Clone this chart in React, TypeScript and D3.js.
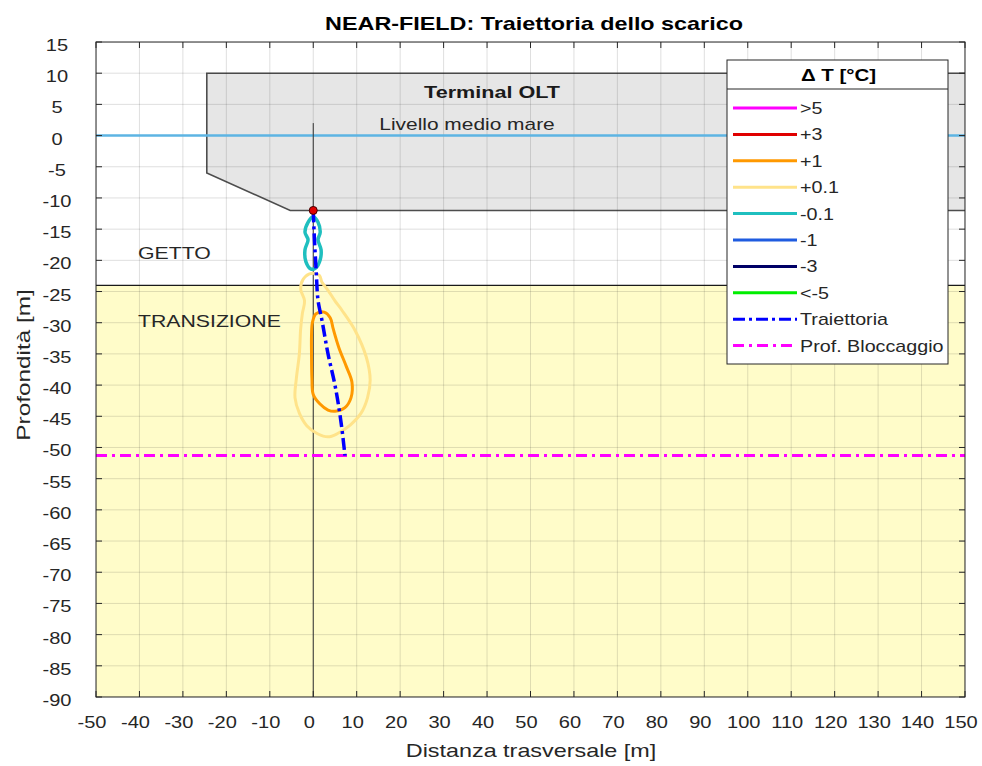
import React from "react";
import * as d3 from "d3";

const W = 982, H = 766;
const X_DOMAIN = [-50, 150];
const Y_DOMAIN = [-90, 15];
const xTicks = d3.range(-50, 151, 10);
const yTicks = d3.range(-90, 16, 5);

// Terminal OLT outline (x, y) in metres
const terminalPoly: [number, number][] = [
  [-24.5, 10], [160, 10], [160, -12], [-5.3, -12], [-24.5, -6],
];
const transitionTop = -24;
const seaLevel = 0;
const outfallPole: [number, number][] = [[0, 2], [0, -90]];
const dischargePoint: [number, number] = [0, -12];
const blockingDepth = -51.3;

// contour -0.1 °C
const contourM01: [number, number][] = [
  [0.0, -13.0], [1.1, -13.9], [1.6, -15.5], [1.1, -16.7], [1.8, -18.3], [1.6, -19.9],
  [0.6, -21.2], [-0.5, -21.4], [-1.7, -20.2], [-1.9, -18.3], [-1.2, -16.7], [-1.9, -15.5],
  [-1.2, -13.9],
];
// contour +0.1 °C
const contourP01: [number, number][] = [
  [-0.5, -22.1], [1.4, -22.4], [2.0, -23.5], [3.4, -24.8], [5.0, -26.5], [6.6, -28.0],
  [9.6, -31.2], [12.2, -35.5], [13.1, -39.2], [12.5, -42.0], [11.0, -44.5], [8.5, -46.4],
  [5.5, -47.8], [3.4, -48.3], [1.0, -47.8], [-1.5, -46.5], [-3.2, -44.5], [-4.2, -42.0],
  [-3.9, -39.0], [-3.2, -35.0], [-2.9, -31.0], [-2.5, -28.5], [-2.0, -26.5], [-2.9, -24.6],
  [-2.3, -23.0],
];
// contour +1 °C
const contourP1: [number, number][] = [
  [-0.2, -30.0], [0.6, -28.6], [2.5, -28.3], [3.9, -29.2], [4.6, -31.0], [5.9, -34.0],
  [7.6, -37.0], [8.9, -39.5], [8.7, -42.0], [7.3, -43.6], [5.0, -44.2], [3.4, -44.0],
  [1.5, -43.0], [0.0, -41.5], [-0.3, -39.0], [-0.4, -35.0], [-0.4, -32.0],
];
// trajectory
const trajectory: [number, number][] = [
  [0, -12], [0.3, -17], [0.7, -22], [1.1, -26.4], [2.0, -29.6], [3.4, -35], [5.0, -40],
  [6.2, -45], [7.3, -51.3],
];

const legendLabels = [">5", "+3", "+1", "+0.1", "-0.1", "-1", "-3", "<-5", "Traiettoria", "Prof. Bloccaggio"];
const legendColors = ["#ff00ff", "#e00000", "#ff9900", "#ffe38a", "#1fbfbf", "#1f5ce0", "#000066", "#00ee00", "#0000ff", "#ff00ff"];
const legendDashed = [false, false, false, false, false, false, false, false, true, true];

const FONT = "'Liberation Sans', Arial, Helvetica, sans-serif";
const TXT = "#262626";

type TxtProps = {
  x: number; y: number; size: number; sx: number; anchor?: "start" | "middle" | "end";
  bold?: boolean; fill?: string; rotate?: number; children: React.ReactNode;
};
function Txt({ x, y, size, sx, anchor = "start", bold, fill = TXT, rotate, children }: TxtProps) {
  const tf = `translate(${x},${y})${rotate ? ` rotate(${rotate})` : ""} scale(${sx},1)`;
  return (
    <text transform={tf} x={0} y={0} textAnchor={anchor} fontSize={size}
      fontWeight={bold ? "bold" : "normal"} fill={fill}>{children}</text>
  );
}

export default function App() {
  const x = d3.scaleLinear().domain(X_DOMAIN).range([96, 965]);
  const y = d3.scaleLinear().domain(Y_DOMAIN).range([697, 42]);
  const L = 96, R = 965, T = 42, B = 697;

  const closed = d3.line<[number, number]>().x(d => x(d[0])).y(d => y(d[1])).curve(d3.curveCatmullRomClosed.alpha(0.5));
  const open = d3.line<[number, number]>().x(d => x(d[0])).y(d => y(d[1])).curve(d3.curveMonotoneY);
  const poly = d3.line<[number, number]>().x(d => x(d[0])).y(d => y(d[1]));

  const trajDash = "12,4,3,4";
  const blockDash = "11,5,3,5";

  const legX = 727, legY = 60, legW = 221, legH = 304, legTitleH = 29;
  const rowStep = 26.4;

  return (
    <svg width={W} height={H} style={{ position: "absolute", left: 0, top: 0, display: "block", background: "#fff" }} fontFamily={FONT}>
      <defs>
        <clipPath id="plotClip"><rect x={L} y={T} width={R - L} height={B - T} /></clipPath>
      </defs>
      <rect x={0} y={0} width={W} height={H} fill="#fff" />
      <g clipPath="url(#plotClip)">
        <rect x={L} y={T} width={R - L} height={B - T} fill="#fff" />
        <rect x={L} y={y(transitionTop)} width={R - L} height={y(-90) - y(transitionTop)} fill="#fffcc9" />
        <line x1={L} x2={R} y1={y(transitionTop)} y2={y(transitionTop)} stroke="#1a1a1a" strokeWidth={1.2} />
        <path d={poly(terminalPoly) + "Z"} fill="#e6e6e6" stroke="#4d4d4d" strokeWidth={1.6} />
        {xTicks.map(t => (
          <line key={"gx" + t} x1={x(t)} x2={x(t)} y1={T} y2={B} stroke="#262626" strokeOpacity={0.15} strokeWidth={1} />
        ))}
        {yTicks.map(t => (
          <line key={"gy" + t} x1={L} x2={R} y1={y(t)} y2={y(t)} stroke="#262626" strokeOpacity={0.15} strokeWidth={1} />
        ))}
        <line x1={L} x2={R} y1={y(seaLevel)} y2={y(seaLevel)} stroke="#5db4e3" strokeWidth={2.5} />
        <line x1={x(outfallPole[0][0])} x2={x(outfallPole[1][0])} y1={y(outfallPole[0][1])} y2={y(outfallPole[1][1])} stroke="#333" strokeWidth={1} />
        <path d={closed(contourP01) || ""} fill="none" stroke={legendColors[3]} strokeWidth={3} />
        <path d={closed(contourP1) || ""} fill="none" stroke={legendColors[2]} strokeWidth={3} />
        <path d={closed(contourM01) || ""} fill="none" stroke={legendColors[4]} strokeWidth={3.5} />
        <line x1={L} x2={R} y1={y(blockingDepth)} y2={y(blockingDepth)} stroke="#ff00ff" strokeWidth={3} strokeDasharray={blockDash} />
        <path d={open(trajectory) || ""} fill="none" stroke="#0000ff" strokeWidth={3.5} strokeDasharray={trajDash} />
        <circle cx={x(dischargePoint[0])} cy={y(dischargePoint[1])} r={4} fill="#e00000" stroke="#400000" strokeWidth={1} />
        <Txt x={492} y={98} size={17} sx={1.27} anchor="middle" bold fill="#1a1a1a">Terminal OLT</Txt>
        <Txt x={467} y={130} size={17} sx={1.23} anchor="middle">Livello medio mare</Txt>
        <Txt x={138} y={259} size={17} sx={1.25}>GETTO</Txt>
        <Txt x={138} y={327} size={17} sx={1.25}>TRANSIZIONE</Txt>
      </g>
      <rect x={L} y={T} width={R - L} height={B - T} fill="none" stroke="#262626" strokeWidth={1} />
      {xTicks.map(t => (
        <g key={"tx" + t}>
          <line x1={x(t)} x2={x(t)} y1={B} y2={B - 6} stroke="#262626" />
          <line x1={x(t)} x2={x(t)} y1={T} y2={T + 6} stroke="#262626" />
          <Txt x={x(t) - 4} y={728} size={17} sx={1.18} anchor="middle">{t}</Txt>
        </g>
      ))}
      {yTicks.map(t => (
        <g key={"ty" + t}>
          <line x1={L} x2={L + 6} y1={y(t)} y2={y(t)} stroke="#262626" />
          <line x1={R} x2={R - 6} y1={y(t)} y2={y(t)} stroke="#262626" />
          <Txt x={57} y={y(t) + 9} size={17} sx={1.18} anchor="middle">{t}</Txt>
        </g>
      ))}
      <Txt x={534} y={30} size={19} sx={1.23} anchor="middle" bold fill="#000">NEAR-FIELD: Traiettoria dello scarico</Txt>
      <Txt x={531} y={757} size={19} sx={1.23} anchor="middle">Distanza trasversale [m]</Txt>
      <Txt x={30} y={365} size={19} sx={1.28} anchor="middle" rotate={-90}>Profondità [m]</Txt>
      <g>
        <rect x={legX} y={legY} width={legW} height={legH} fill="#fff" stroke="#262626" strokeWidth={1} />
        <line x1={legX} x2={legX + legW} y1={legY + legTitleH} y2={legY + legTitleH} stroke="#262626" strokeWidth={1} />
        <Txt x={legX + legW / 2 + 1} y={legY + 21} size={16} sx={1.28} anchor="middle" bold fill="#000">Δ T [°C]</Txt>
        {legendLabels.map((lab, i) => {
          const cy = 108 + i * rowStep;
          return (
            <g key={lab}>
              <line x1={733} x2={797} y1={cy} y2={cy} stroke={legendColors[i]} strokeWidth={3}
                strokeDasharray={legendDashed[i] ? (i === 8 ? trajDash : blockDash) : undefined} />
              <Txt x={800} y={cy + 6} size={17} sx={1.16}>{lab}</Txt>
            </g>
          );
        })}
      </g>
    </svg>
  );
}
